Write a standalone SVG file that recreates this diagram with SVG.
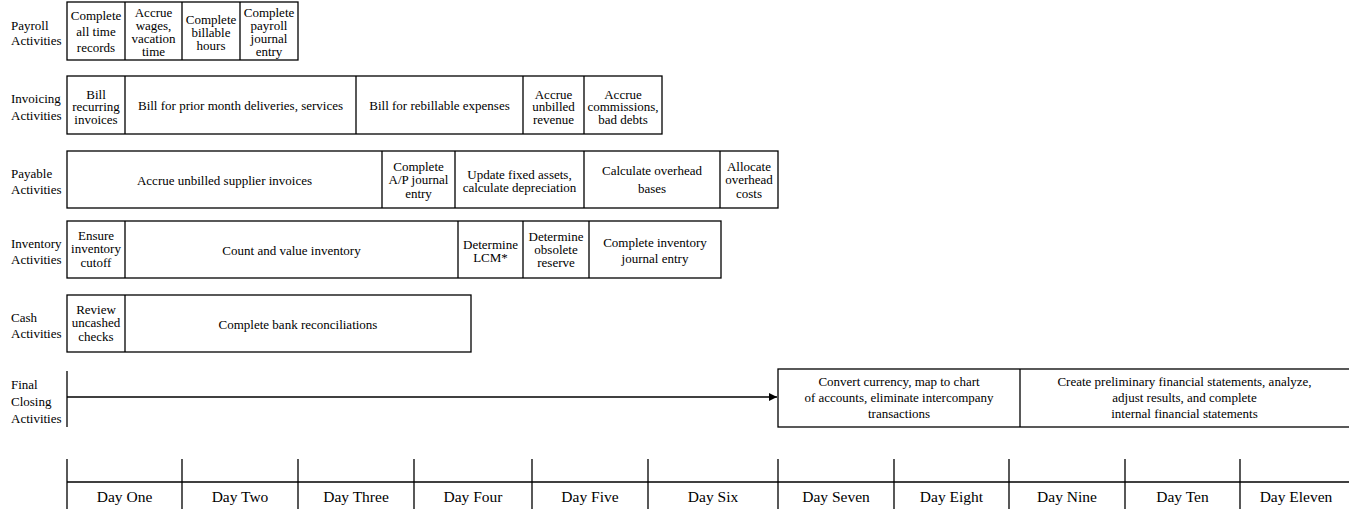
<svg xmlns="http://www.w3.org/2000/svg" width="1349" height="509" viewBox="0 0 1349 509">
  <style>
    text { font-family: "Liberation Serif", "Times New Roman", serif; font-size: 13px; fill: #000; }
    .c { text-anchor: middle; }
    .day { font-size: 15.5px; text-anchor: middle; }
    .box { fill: #fff; stroke: #000; stroke-width: 1.3; }
    .ln { stroke: #000; stroke-width: 1.3; fill: none; }
  </style>
  <defs>
    <marker id="arrow" viewBox="0 0 10 10" refX="10" refY="5" markerWidth="8" markerHeight="8" markerUnits="userSpaceOnUse" orient="auto">
      <path d="M0,0 L10,5 L0,10 z" fill="#000"/>
    </marker>
  </defs>
  <rect width="1349" height="509" fill="#fff"/>

  <!-- Row labels -->
  <g id="row-labels">
    <text x="11" y="30">Payroll</text><text x="11" y="45">Activities</text>
    <text x="11" y="103">Invoicing</text><text x="11" y="120">Activities</text>
    <text x="11" y="178">Payable</text><text x="11" y="194">Activities</text>
    <text x="11" y="248">Inventory</text><text x="11" y="264">Activities</text>
    <text x="11" y="322">Cash</text><text x="11" y="338">Activities</text>
    <text x="11" y="389">Final</text><text x="11" y="406">Closing</text><text x="11" y="423">Activities</text>
  </g>

  <!-- Payroll -->
  <g id="payroll">
    <rect class="box" x="67" y="2" width="231" height="58"/>
    <path class="ln" d="M125,2V60M182,2V60M240,2V60"/>
    <text class="c" x="96" y="19.5">Complete</text><text class="c" x="96" y="35.5">all time</text><text class="c" x="96" y="51.5">records</text>
    <text class="c" x="153.5" y="17">Accrue</text><text class="c" x="153.5" y="30">wages,</text><text class="c" x="153.5" y="43">vacation</text><text class="c" x="153.5" y="56">time</text>
    <text class="c" x="211" y="23.5">Complete</text><text class="c" x="211" y="36.5">billable</text><text class="c" x="211" y="49.5">hours</text>
    <text class="c" x="269" y="17">Complete</text><text class="c" x="269" y="30">payroll</text><text class="c" x="269" y="43">journal</text><text class="c" x="269" y="56">entry</text>
  </g>

  <!-- Invoicing -->
  <g id="invoicing">
    <rect class="box" x="67" y="76" width="595" height="58"/>
    <path class="ln" d="M125,76V134M356,76V134M523,76V134M584,76V134"/>
    <text class="c" x="96" y="98.5">Bill</text><text class="c" x="96" y="111">recurring</text><text class="c" x="96" y="123.5">invoices</text>
    <text class="c" x="240.5" y="109.5">Bill for prior month deliveries, services</text>
    <text class="c" x="439.5" y="109.5">Bill for rebillable expenses</text>
    <text class="c" x="553.5" y="98.5">Accrue</text><text class="c" x="553.5" y="111">unbilled</text><text class="c" x="553.5" y="123.5">revenue</text>
    <text class="c" x="623" y="98.5">Accrue</text><text class="c" x="623" y="111">commissions,</text><text class="c" x="623" y="123.5">bad debts</text>
  </g>

  <!-- Payable -->
  <g id="payable">
    <rect class="box" x="67" y="151" width="711" height="57"/>
    <path class="ln" d="M382,151V208M455,151V208M584,151V208M720,151V208"/>
    <text class="c" x="224.5" y="185">Accrue unbilled supplier invoices</text>
    <text class="c" x="418.5" y="171">Complete</text><text class="c" x="418.5" y="184">A/P journal</text><text class="c" x="418.5" y="198">entry</text>
    <text class="c" x="519.5" y="179">Update fixed assets,</text><text class="c" x="519.5" y="192">calculate depreciation</text>
    <text class="c" x="652" y="175">Calculate overhead</text><text class="c" x="652" y="193">bases</text>
    <text class="c" x="749" y="171">Allocate</text><text class="c" x="749" y="184">overhead</text><text class="c" x="749" y="198">costs</text>
  </g>

  <!-- Inventory -->
  <g id="inventory">
    <rect class="box" x="67" y="221" width="654" height="57"/>
    <path class="ln" d="M125,221V278M458,221V278M523,221V278M589,221V278"/>
    <text class="c" x="96" y="240">Ensure</text><text class="c" x="96" y="253">inventory</text><text class="c" x="96" y="267">cutoff</text>
    <text class="c" x="291.5" y="255">Count and value inventory</text>
    <text class="c" x="490.5" y="249">Determine</text><text class="c" x="490.5" y="262">LCM*</text>
    <text class="c" x="556" y="241">Determine</text><text class="c" x="556" y="254">obsolete</text><text class="c" x="556" y="267">reserve</text>
    <text class="c" x="655" y="247">Complete inventory</text><text class="c" x="655" y="263">journal entry</text>
  </g>

  <!-- Cash -->
  <g id="cash">
    <rect class="box" x="67" y="295" width="404" height="57"/>
    <path class="ln" d="M125,295V352"/>
    <text class="c" x="96" y="314">Review</text><text class="c" x="96" y="327">uncashed</text><text class="c" x="96" y="341">checks</text>
    <text class="c" x="298" y="329">Complete bank reconciliations</text>
  </g>

  <!-- Final closing -->
  <g id="final-closing">
    <path class="ln" d="M67,371V427"/>
    <rect class="box" x="778" y="369" width="572" height="58"/>
    <path class="ln" d="M1020,369V427"/>
    <text class="c" x="899" y="386">Convert currency, map to chart</text>
    <text class="c" x="899" y="402">of accounts, eliminate intercompany</text>
    <text class="c" x="899" y="418">transactions</text>
    <text class="c" x="1184.5" y="386">Create preliminary financial statements, analyze,</text>
    <text class="c" x="1184.5" y="402">adjust results, and complete</text>
    <text class="c" x="1184.5" y="418">internal financial statements</text>
  </g>

  <!-- Connectors -->
  <g id="connectors">
    <path class="ln" d="M67,397H777" marker-end="url(#arrow)"/>
  </g>

  <!-- Day timeline -->
  <g id="timeline">
    <path class="ln" d="M67,482H1349"/>
    <path class="ln" d="M67,459V509M182,459V509M298,459V509M414,459V509M532,459V509M648,459V509M778,459V509M894,459V509M1009,459V509M1125,459V509M1240,459V509"/>
    <text class="day" x="124.5" y="502">Day One</text>
    <text class="day" x="240" y="502">Day Two</text>
    <text class="day" x="356" y="502">Day Three</text>
    <text class="day" x="473" y="502">Day Four</text>
    <text class="day" x="590" y="502">Day Five</text>
    <text class="day" x="713" y="502">Day Six</text>
    <text class="day" x="836" y="502">Day Seven</text>
    <text class="day" x="951.5" y="502">Day Eight</text>
    <text class="day" x="1067" y="502">Day Nine</text>
    <text class="day" x="1182.5" y="502">Day Ten</text>
    <text class="day" x="1296" y="502">Day Eleven</text>
  </g>
</svg>
